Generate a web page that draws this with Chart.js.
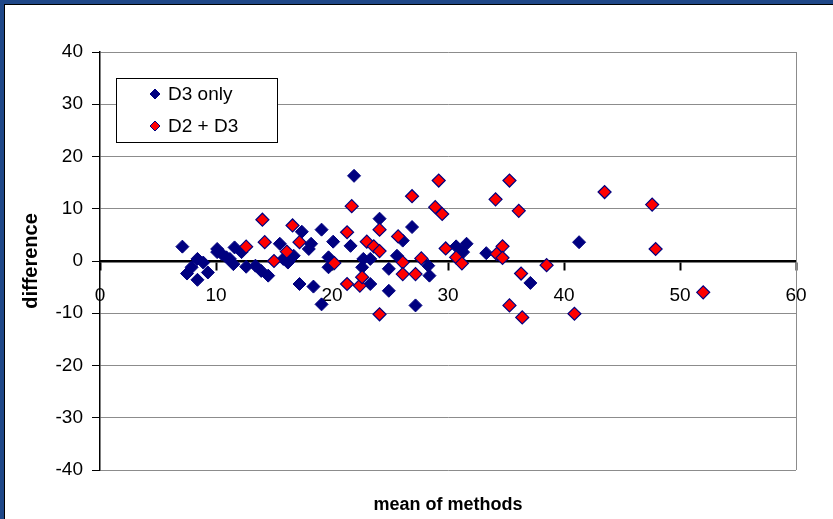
<!DOCTYPE html>
<html>
<head>
<meta charset="utf-8">
<script src="https://cdn.jsdelivr.net/npm/chart.js@4.4.0/dist/chart.umd.min.js"></script>
<style>
  html, body { margin: 0; padding: 0; background: #1f4788; }
  #moldura { position: absolute; left: 4px; top: 4px; width: 829px; height: 515px; background: #fff;
             border-left: 1px solid #000; border-top: 1px solid #000; box-sizing: border-box; }
  #area { position: absolute; left: 0; top: 0; width: 833px; height: 519px; }
</style>
</head>
<body>
<div id="moldura"></div>
<div id="area"><canvas id="grafico" width="833" height="519"></canvas></div>
<script>
// dados: media dos metodos (x) e diferenca (y)
const d3OnlyMean = [7.1, 7.5, 7.9, 8.4, 8.4, 8.9, 9.3, 10.1, 10.1, 10.5, 10.9, 11.2, 11.5, 11.6, 12.2, 12.6, 13.4, 13.9, 14.5,
    15.5, 15.8, 16.2, 16.7, 17.2, 17.4, 18.0, 18.2, 18.4, 19.1, 19.1, 19.7, 19.7, 20.1, 21.6, 21.9, 22.6, 22.7, 23.3, 23.3,
    24.1, 24.9, 24.9, 25.6, 26.1, 26.9, 27.2, 28.3, 28.4, 30.7, 31.3, 31.6, 33.3, 37.1, 41.3]
const d3OnlyDiff = [2.75, -2.4, -1.2, 0.4, -3.6, -0.3, -2.2, 2.3, 1.7, 1.35, 0.7, 0.4, -0.6, 2.6, 1.7, -1.1, -0.9, -1.9, -2.8,
    3.3, 0.4, -0.3, 1.0, -4.4, 5.6, 2.3, 3.3, -4.9, 6.0, -8.3, 0.7, -1.2, 3.7, 2.9, 16.3, -1.2, 0.4, 0.4, -4.4,
    8.1, -1.5, -5.7, 1.0, 3.9, 6.5, -8.5, -0.9, -2.8, 2.8, 1.7, 3.3, 1.5, -4.2, 3.6]

const d2d3Mean = [12.6, 14.0, 14.2, 15.0, 16.1, 16.6, 17.2, 20.2, 21.3, 21.3, 21.7, 22.4, 22.6, 23.0, 23.6, 24.1, 24.1, 24.1,
    25.7, 26.1, 26.1, 26.9, 27.2, 27.7, 28.9, 29.2, 29.5, 29.8, 30.7, 31.2, 34.1, 34.2, 34.7, 34.7, 35.3, 35.3, 36.1,
    36.3, 36.4, 38.5, 40.9, 43.5, 47.6, 47.9, 52.0]
const d2d3Diff = [2.75, 7.9, 3.6, 0.0, 1.8, 6.8, 3.6, -0.4, 5.5, -4.4, 10.5, -4.7, -3.1, 3.7, 2.8, 6.0, 1.9, -10.2,
    4.7, -0.25, -2.5, 12.4, -2.5, 0.5, 10.3, 15.4, 9.0, 2.4, 0.7, -0.45, 11.8, 1.35, 2.8, 0.6, 15.4, -8.5, 9.6,
    -2.4, -10.8, -0.8, -10.1, 13.2, 10.8, 2.3, -6.0]

const nomesSeries = ['D3 only', 'D2 + D3']
const tituloX = 'mean of methods'
const tituloY = 'difference'

const pontos = (xs, ys) => xs.map((x, i) => ({ x: x, y: ys[i] }))

Chart.defaults.font.family = "'Liberation Sans', Arial, sans-serif"
Chart.defaults.color = '#000'

const azul = '#000080'
const vermelho = '#ff0000'

function losango(ctx, x, y, r) {
    ctx.beginPath()
    ctx.moveTo(x - r, y)
    ctx.lineTo(x, y - r)
    ctx.lineTo(x + r, y)
    ctx.lineTo(x, y + r)
    ctx.closePath()
}

// borda direita cinza da area do grafico + titulo do eixo x
const bordaPlugin = {
    id: 'borda',
    beforeDatasetsDraw(chart) {
        const { ctx, chartArea } = chart
        ctx.save()
        ctx.strokeStyle = '#8c8c8c'
        ctx.lineWidth = 1
        ctx.beginPath()
        ctx.moveTo(Math.round(chartArea.right) + 0.5, chartArea.top)
        ctx.lineTo(Math.round(chartArea.right) + 0.5, chartArea.bottom)
        ctx.stroke()
        ctx.font = "bold 18px 'Liberation Sans', Arial, sans-serif"
        ctx.fillStyle = '#000'
        ctx.textAlign = 'center'
        ctx.textBaseline = 'middle'
        ctx.fillText(tituloX, (chartArea.left + chartArea.right) / 2, chartArea.bottom + 35)
        ctx.restore()
    }
}

// legenda dentro da area do grafico
const legendaPlugin = {
    id: 'legenda',
    afterDatasetsDraw(chart) {
        const ctx = chart.ctx
        ctx.save()
        ctx.fillStyle = '#fff'
        ctx.fillRect(116.5, 78.5, 161, 64)
        ctx.strokeStyle = '#000'
        ctx.lineWidth = 1
        ctx.strokeRect(116.5, 78.5, 161, 64)
        const cores = [azul, vermelho]
        const linhas = [94, 126]
        ctx.font = "19px 'Liberation Sans', Arial, sans-serif"
        ctx.textBaseline = 'middle'
        for (let i = 0; i < nomesSeries.length; i++) {
            losango(ctx, 155, linhas[i], 5)
            ctx.fillStyle = cores[i]
            ctx.fill()
            ctx.strokeStyle = azul
            ctx.stroke()
            ctx.fillStyle = '#000'
            ctx.fillText(nomesSeries[i], 168, linhas[i] + 1)
        }
        ctx.restore()
    }
}

new Chart(document.getElementById('grafico'), {
    type: 'scatter',
    data: {
        datasets: [{
            label: nomesSeries[0],
            data: pontos(d3OnlyMean, d3OnlyDiff),
            pointStyle: 'rectRot',
            pointRadius: 6.5,
            pointHoverRadius: 6.5,
            backgroundColor: azul,
            borderColor: azul,
            borderWidth: 1,
            order: 1
        }, {
            label: nomesSeries[1],
            data: pontos(d2d3Mean, d2d3Diff),
            pointStyle: 'rectRot',
            pointRadius: 6.5,
            pointHoverRadius: 6.5,
            backgroundColor: vermelho,
            borderColor: azul,
            borderWidth: 1.2,
            order: 0
        }]
    },
    options: {
        responsive: false,
        animation: false,
        events: [],
        layout: { padding: { left: 0, top: 52, right: 37, bottom: 49 } },
        plugins: {
            legend: { display: false },
            tooltip: { enabled: false },
            title: { display: false }
        },
        scales: {
            x: {
                type: 'linear',
                min: 0,
                max: 60,
                position: { y: 0 },
                ticks: { stepSize: 10, font: { size: 19 }, padding: 15 },
                grid: { drawOnChartArea: false, drawTicks: true, tickLength: 8, tickColor: '#000', tickWidth: 2 },
                border: { color: '#000', width: 2.5 }
            },
            y: {
                min: -40,
                max: 40,
                ticks: { stepSize: 10, font: { size: 19 }, padding: 9 },
                grid: {
                    color: (c) => c.tick && c.tick.value === 0 ? 'rgba(0,0,0,0)' : '#8c8c8c',
                    lineWidth: 1,
                    tickColor: '#000',
                    tickLength: 8
                },
                border: { color: '#000', width: 1.5 },
                title: {
                    display: true,
                    text: tituloY,
                    font: { size: 20, weight: 'bold' },
                    padding: { top: 19, bottom: 0 }
                },
                afterFit: (scale) => { scale.width = 100 }
            }
        }
    },
    plugins: [bordaPlugin, legendaPlugin]
})
</script>
</body>
</html>
